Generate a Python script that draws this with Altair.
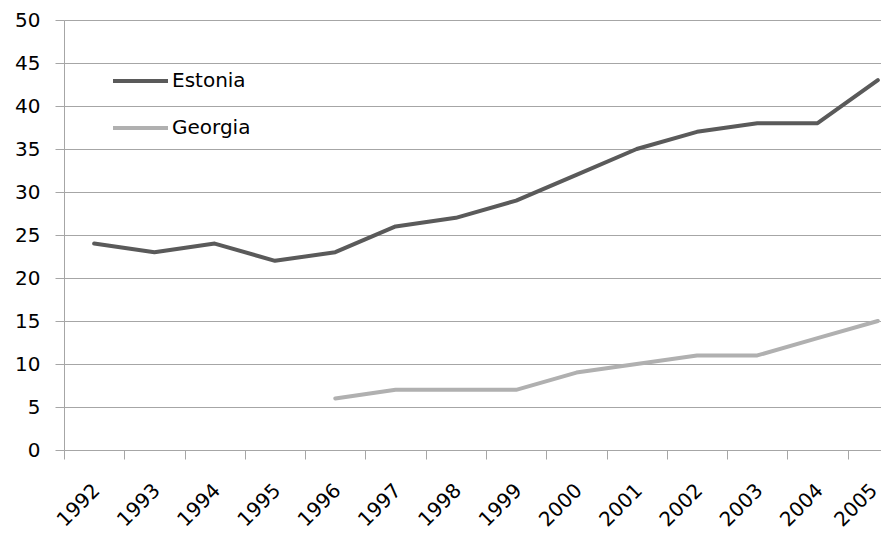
import altair as alt
import pandas as pd

years = list(range(1992, 2006))
estonia = [24, 23, 24, 22, 23, 26, 27, 29, 32, 35, 37, 38, 38, 43]
georgia_years = list(range(1996, 2006))
georgia = [6, 7, 7, 7, 9, 10, 11, 11, 13, 15]
series_names = ["Estonia", "Georgia"]
series_colors = ["#5a5a5a", "#b0b0b0"]
y_ticks = list(range(0, 51, 5))

rows = [{"year": y, "series": "Estonia", "value": v} for y, v in zip(years, estonia)]
rows += [{"year": y, "series": "Georgia", "value": v} for y, v in zip(georgia_years, georgia)]
df = pd.DataFrame(rows)

FONT = "DejaVu Sans"
GRID = "#a6a6a6"
W, H = 844, 430
x_domain = [years[0] - 0.5, years[-1] + 0.5]
boundaries = [y - 0.5 for y in years]

xscale = alt.Scale(domain=x_domain, nice=False, zero=False)
yscale = alt.Scale(domain=[0, 50], nice=False)

lines = alt.Chart(df).mark_line(strokeWidth=4, strokeCap="round", strokeJoin="round", clip=False).encode(
    x=alt.X("year:Q", scale=xscale, axis=alt.Axis(
        values=years, format="d", title=None, orient="bottom", grid=False, ticks=False,
        domain=True, domainColor=GRID, labelAngle=-45, labelAlign="right", labelBaseline="middle",
        labelPadding=37,
        labelOffset={"condition": {"test": f"datum.value == {years[-1]}", "value": -4}, "value": 2},
        labelFont=FONT, labelFontSize=20, labelColor="#000000",
        labelOverlap=False, labelFlush=False)),
    y=alt.Y("value:Q", scale=yscale, axis=alt.Axis(
        values=y_ticks, title=None, grid=True, gridColor=GRID, gridWidth=1, tickColor=GRID,
        tickSize=9, domainColor=GRID, labelPadding=15, labelFont=FONT, labelFontSize=20,
        labelColor="#000000")),
    color=alt.Color("series:N", scale=alt.Scale(domain=series_names, range=series_colors), legend=None),
    detail="series:N",
)

ticks = alt.Chart(pd.DataFrame({"b": boundaries})).mark_tick(opacity=0).encode(
    x=alt.X("b:Q", scale=xscale, axis=alt.Axis(
        values=boundaries, orient="bottom", labels=False, title=None, grid=False, ticks=True,
        tickSize=9, tickColor=GRID, domain=False)),
)

layers = [lines, ticks]
for i, (name, col) in enumerate(zip(series_names, series_colors)):
    ld = pd.DataFrame({"series": [name]})
    ypos = 61 + 47 * i
    layers.append(alt.Chart(ld).mark_rule(strokeWidth=4, color=col).encode(
        x=alt.value(49), x2=alt.value(104), y=alt.value(ypos)))
    layers.append(alt.Chart(ld).mark_text(align="left", baseline="middle", font=FONT, fontSize=20,
                                          color="#000000").encode(
        x=alt.value(108), y=alt.value(ypos), text="series:N"))

chart = alt.layer(*layers).resolve_axis(x="independent").properties(
    width=W, height=H,
    autosize=alt.AutoSizeParams(type="none"),
    padding={"left": 56, "top": 12, "right": -27, "bottom": 80},
).configure_view(stroke=None).configure(background="white")

chart.save("out.html", embed_options={"renderer": "svg", "actions": False})
